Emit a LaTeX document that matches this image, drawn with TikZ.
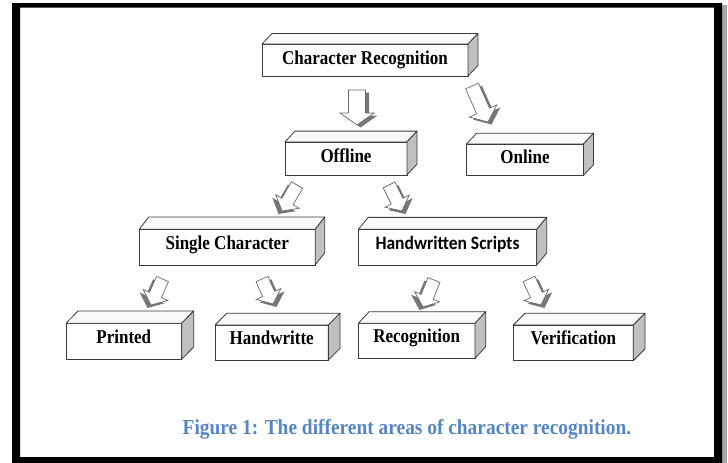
\documentclass[tikz,border=0pt]{standalone}
\usepackage{fontspec}
\setmainfont{Liberation Serif}
\newfontfamily\carlitofont{Carlito}
\usetikzlibrary{calc}
\definecolor{edgec}{RGB}{60,60,60}
\definecolor{sidec}{RGB}{192,192,192}
\definecolor{topc}{RGB}{250,250,250}
\definecolor{capblue}{RGB}{84,134,196}
\definecolor{arrline}{RGB}{105,105,105}
\definecolor{arrshade}{RGB}{105,105,105}

\newcommand{\tallt}[1]{\scalebox{1}[1.15]{#1}}

\newcommand{\bArrow}[6]{%
  \coordinate (#1n) at ($(#2)!#5!(#1)$);
  \begin{scope}[transform canvas={shift={#6}}]
    \fill[arrshadow] ($(#1)!#3!90:(#2)$) -- ($(#1n)!#3!90:(#2)$) -- ($(#1n)!#4!90:(#2)$) -- (#2) -- ($(#1n)!#4!-90:(#2)$) -- ($(#1n)!#3!-90:(#2)$) -- ($(#1)!#3!-90:(#2)$) -- cycle;
  \end{scope}
  \draw[arrbody] ($(#1)!#3!90:(#2)$) -- ($(#1n)!#3!90:(#2)$) -- ($(#1n)!#4!90:(#2)$) -- (#2) -- ($(#1n)!#4!-90:(#2)$) -- ($(#1n)!#3!-90:(#2)$) -- ($(#1)!#3!-90:(#2)$) -- cycle;
}

\newcommand{\cuboid}[3]{%
  \filldraw[topface] (#1.north west) -- ($(#1.north west)+(#2,-#3)$) -- ($(#1.north east)+(#2,-#3)$) -- (#1.north east) -- cycle;
  \filldraw[sideface] (#1.north east) -- ($(#1.north east)+(#2,-#3)$) -- ($(#1.south east)+(#2,-#3)$) -- (#1.south east) -- cycle;
}

\begin{document}
\begin{tikzpicture}[x=1pt,y=-1pt,
  boxst/.style={draw=edgec, fill=white, line width=0.8pt, inner sep=0pt, outer sep=0pt,
    font=\bfseries\fontsize{17}{20}\selectfont, text height=12pt},
  upper/.style={text depth=4pt},
  lower/.style={text depth=8pt},
  topface/.style={draw=edgec, fill=topc, line width=0.8pt, line join=round},
  sideface/.style={draw=edgec, fill=sidec, line width=0.8pt, line join=round},
  arrbody/.style={draw=arrline, fill=white, line width=0.7pt, line join=miter},
  arrshadow/.style={fill=arrshade, opacity=0.9},
]
\useasboundingbox (0,0) rectangle (728,463);
\fill[white] (0,0) rectangle (728,463);
% frame
\fill[black!35] (722,5) rectangle (727,463);
\fill[black, even odd rule] (12,3) rectangle (722,463) (20,7.5) rectangle (714,457);

% boxes
\node[boxst, upper, minimum width=206pt, minimum height=32pt] (cr) at (365,60) {\tallt{Character Recognition}};
\cuboid{cr}{10}{10.5}
\node[boxst, upper, minimum width=122pt, minimum height=33pt] (off) at (346,158.4) {\tallt{Offline}};
\cuboid{off}{10}{10.8}
\node[boxst, upper, minimum width=117pt, minimum height=31.5pt] (on) at (525,159.7) {\tallt{Online}};
\cuboid{on}{10}{10.7}
\node[boxst, lower, minimum width=176pt, minimum height=35.7pt] (sc) at (227.2,247.2) {\tallt{Single Character}};
\cuboid{sc}{9.5}{12.3}
\node[boxst, lower, minimum width=178.4pt, minimum height=35.7pt, font=\carlitofont\bfseries\fontsize{17.5}{20}\selectfont] (hs) at (447.5,247.2) {\scalebox{1}[1.08]{Handwritten Scripts}};
\cuboid{hs}{10}{12}
\node[boxst, lower, minimum width=115.7pt, minimum height=36pt] (pr) at (123.8,341.3) {\tallt{Printed}};
\cuboid{pr}{12}{12.3}
\node[boxst, lower, minimum width=113.3pt, minimum height=35pt] (hw) at (271.7,342.5) {\tallt{Handwritte}};
\cuboid{hw}{11.7}{11.7}
\node[boxst, lower, minimum width=116.7pt, minimum height=35pt] (rec) at (416.7,340.8) {\tallt{Recognition}};
\cuboid{rec}{10.7}{11.6}
\node[boxst, lower, minimum width=120pt, minimum height=35.7pt] (ver) at (573.3,342.8) {\tallt{Verification}};
\cuboid{ver}{11.7}{11.7}

% arrows
\coordinate (t1) at (357,90);    \coordinate (h1) at (357,125);
\coordinate (t2) at (472,86);    \coordinate (h2) at (488,122);
\coordinate (t3) at (297,185);   \coordinate (h3) at (282,211);
\coordinate (t4) at (389,185);   \coordinate (h4) at (402,211);
\coordinate (t5) at (162.5,279); \coordinate (h5) at (151,305);
\coordinate (t6) at (262,279);   \coordinate (h6) at (273,304);
\coordinate (t7) at (434,280);   \coordinate (h7) at (423,307);
\coordinate (t8) at (529,279);   \coordinate (h8) at (541,305);

\bArrow{t1}{h1}{8.5pt}{17pt}{12pt}{(3.5pt,-2.5pt)}
\bArrow{t2}{h2}{7pt}{15pt}{12pt}{(3.5pt,-2.5pt)}
\bArrow{t3}{h3}{6.5pt}{13.5pt}{11pt}{(-3.5pt,-3pt)}
\bArrow{t4}{h4}{6.5pt}{13.5pt}{11pt}{(3.5pt,-3pt)}
\bArrow{t5}{h5}{6.5pt}{13.5pt}{11pt}{(-3.5pt,-3pt)}
\bArrow{t6}{h6}{6.5pt}{13.5pt}{11pt}{(3.5pt,-3pt)}
\bArrow{t7}{h7}{6.5pt}{13.5pt}{11pt}{(-3.5pt,-3pt)}
\bArrow{t8}{h8}{6.5pt}{13.5pt}{11pt}{(3.5pt,-3pt)}

% caption
\node[anchor=base west, inner sep=0pt, text=capblue, font=\bfseries\fontsize{19.4}{22}\selectfont] (cap) at (182.5,434.3) {\scalebox{1}[1.1]{Figure 1: The different areas of character recognition.}};
\end{tikzpicture}
\end{document}
